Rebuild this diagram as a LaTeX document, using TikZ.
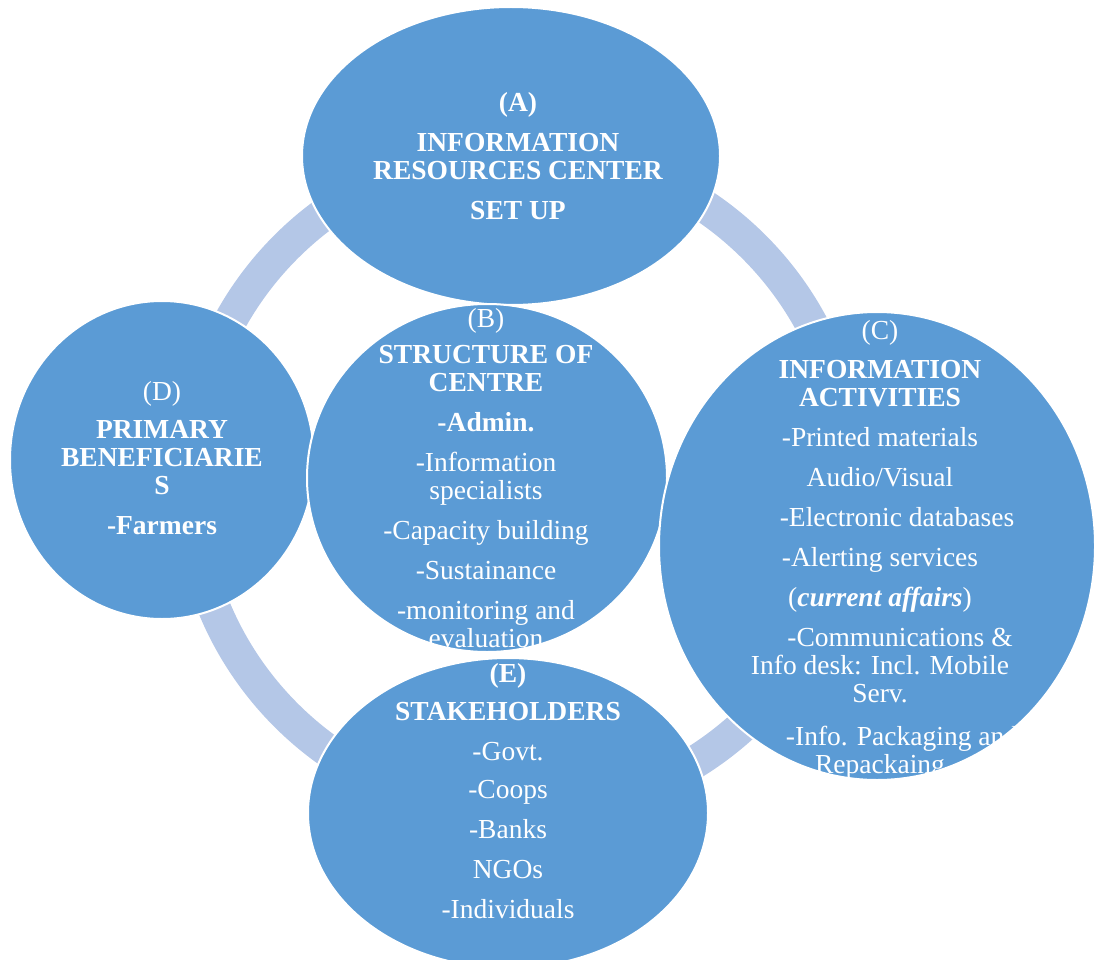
\documentclass[tikz,border=0pt]{standalone}
\usepackage{fontspec}
\setmainfont{Liberation Serif}
\usetikzlibrary{shapes.geometric}
\definecolor{blobc}{HTML}{5B9BD5}
\definecolor{ringc}{HTML}{B4C7E7}
\begin{document}
\begin{tikzpicture}[x=1pt,y=-1pt,
  blob/.style={ellipse, fill=blobc, draw=white, line width=2pt, inner sep=0pt},
  txt/.style={text=white, font=\fontsize{27.5}{28}\selectfont, inner sep=0pt,
    draw=none, fill=none, shape=rectangle, minimum width=0pt, minimum height=0pt,
    line width=0pt, anchor=base},
  ringstyle/.style={circle, draw=ringc, line width=33pt, fill=none, inner sep=0pt}
]
\useasboundingbox (0,0) rectangle (1097,960);
% background ring
\node[ringstyle, minimum size=662pt] (ring) at (520,481) {};
% (A)
\node[blob, minimum width=418pt, minimum height=298pt,
  path picture={\node[txt] at ([xshift=7pt,yshift=44pt]path picture bounding box.center)
    {\bfseries\begin{tabular}[t]{@{}c@{}}(A)\\[12pt]
      INFORMATION\\
      RESOURCES CENTER\\[12pt]
      SET UP\end{tabular}};}] (A) at (511,156) {};
% (D)
\node[blob, minimum width=304pt, minimum height=318pt,
  path picture={\node[txt] at ([xshift=0pt,yshift=60pt]path picture bounding box.center)
    {\begin{tabular}[t]{@{}c@{}}(D)\\[10pt]
      \textbf{PRIMARY}\\
      \textbf{BENEFICIARIE}\\
      \textbf{S}\\[12pt]
      \textbf{-Farmers}\end{tabular}};}] (D) at (162,460) {};
% (B)
\node[blob, minimum width=360pt, minimum height=348pt,
  path picture={\node[txt] at ([xshift=-1pt,yshift=151pt]path picture bounding box.center)
    {\begin{tabular}[t]{@{}c@{}}(B)\\[8pt]
      \textbf{STRUCTURE OF}\\
      \textbf{CENTRE}\\[12pt]
      \textbf{-Admin.}\\[12pt]
      -Information\\
      specialists\\[12pt]
      -Capacity building\\[12pt]
      -Sustainance\\[12pt]
      -monitoring and\\
      evaluation\end{tabular}};}] (B) at (487,478) {};
% (C)
\node[blob, minimum width=436pt, minimum height=468pt,
  path picture={\node[txt] at ([xshift=3pt,yshift=207pt]path picture bounding box.center)
    {\begin{tabular}[t]{@{}c@{}}(C)\\[11pt]
      \textbf{INFORMATION}\\
      \textbf{ACTIVITIES}\\[12pt]
      -Printed materials\\[12pt]
      Audio/Visual\\[12pt]
      \hspace*{34pt}-Electronic databases\\[12pt]
      -Alerting services\\[12pt]
      (\textbf{\textit{current affairs}})\\[12pt]
      \hspace*{40pt}-Communications \&\\
      Info desk: Incl. Mobile\\
      Serv.\\[15pt]
      \hspace*{44pt}-Info. Packaging and\\
      Repackaing\end{tabular}};}] (C) at (877,546) {};
% (E)
\node[blob, minimum width=400pt, minimum height=310pt,
  path picture={\node[txt] at ([xshift=0pt,yshift=131pt]path picture bounding box.center)
    {\begin{tabular}[t]{@{}c@{}}\textbf{(E)}\\[10pt]
      \textbf{STAKEHOLDERS}\\[12pt]
      -Govt.\\[10pt]
      -Coops\\[12pt]
      -Banks\\[12pt]
      NGOs\\[12pt]
      -Individuals\end{tabular}};}] (E) at (508,813) {};
\end{tikzpicture}
\end{document}
